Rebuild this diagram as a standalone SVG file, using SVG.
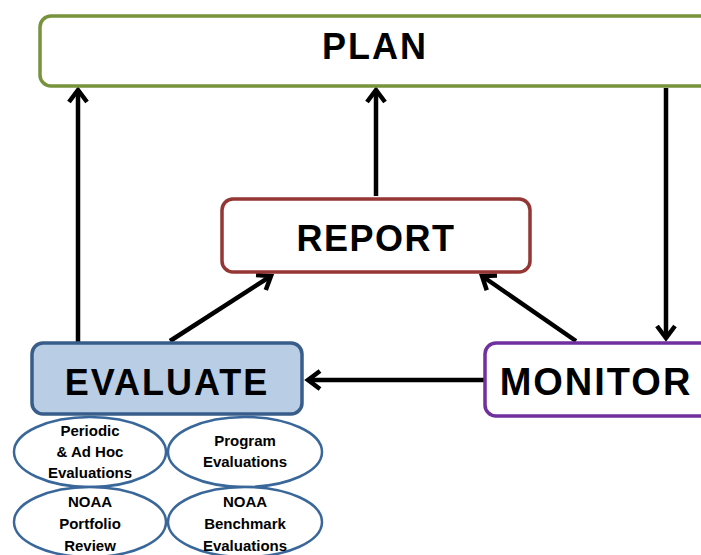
<svg xmlns="http://www.w3.org/2000/svg" width="701" height="555" viewBox="0 0 701 555">
  <style>
    .box { stroke-width: 3.5; }
    .big { font-family: "Liberation Sans", Arial, sans-serif; font-weight: bold; fill: #000; text-anchor: middle; }
    .oval { fill: #fff; stroke: #3A679A; stroke-width: 2.5; }
    .small { font-family: "Liberation Sans", Arial, sans-serif; font-weight: bold; font-size: 15px; fill: #000; text-anchor: middle; }
    .link { stroke: #000; stroke-width: 4.5; fill: none; marker-end: url(#head); }
  </style>
  <defs>
    <marker id="head" viewBox="0 0 12 12" refX="10" refY="6" markerWidth="12" markerHeight="12" markerUnits="userSpaceOnUse" orient="auto" overflow="visible">
      <path d="M-2,-3 L10,6 L-2,15" fill="none" stroke="#000" stroke-width="4.5" stroke-linejoin="miter"/>
    </marker>
  </defs>
  <rect width="701" height="555" fill="#fff"/>

  <g id="connectors">
    <line class="link" x1="78" y1="342" x2="78" y2="90"/>
    <line class="link" x1="376" y1="196" x2="376" y2="90"/>
    <line class="link" x1="666" y1="88" x2="666" y2="338"/>
    <line class="link" x1="170" y1="341" x2="271" y2="276"/>
    <line class="link" x1="576" y1="341" x2="482" y2="276"/>
    <line class="link" x1="484" y1="380" x2="308" y2="380"/>
  </g>

  <g id="plan">
    <rect class="box" x="40" y="16" width="690" height="70" rx="11" fill="#fff" stroke="#77933C"/>
    <text class="big" x="375" y="59" font-size="36" letter-spacing="2">PLAN</text>
  </g>

  <g id="report">
    <rect class="box" x="222" y="199" width="308" height="73" rx="11" fill="#fff" stroke="#943634"/>
    <text class="big" x="376" y="251" font-size="36" letter-spacing="1.5">REPORT</text>
  </g>

  <g id="evaluate">
    <rect class="box" x="32" y="343" width="270" height="71" rx="11" fill="#B9CDE5" stroke="#385D8A"/>
    <text class="big" x="167" y="395" font-size="36" letter-spacing="2">EVALUATE</text>
  </g>

  <g id="monitor">
    <rect class="box" x="485" y="343" width="260" height="73" rx="11" fill="#fff" stroke="#7030A0"/>
    <text class="big" x="596" y="395" font-size="38" letter-spacing="2">MONITOR</text>
  </g>

  <g id="periodic">
    <ellipse class="oval" cx="90" cy="452" rx="76" ry="35"/>
    <text class="small" x="90" y="436">Periodic</text>
    <text class="small" x="90" y="457">&amp; Ad Hoc</text>
    <text class="small" x="90" y="478">Evaluations</text>
  </g>

  <g id="program">
    <ellipse class="oval" cx="245" cy="452" rx="77" ry="35"/>
    <text class="small" x="245" y="446">Program</text>
    <text class="small" x="245" y="467">Evaluations</text>
  </g>

  <g id="portfolio">
    <ellipse class="oval" cx="90" cy="522" rx="76" ry="35"/>
    <text class="small" x="90" y="507">NOAA</text>
    <text class="small" x="90" y="529">Portfolio</text>
    <text class="small" x="90" y="551">Review</text>
  </g>

  <g id="benchmark">
    <ellipse class="oval" cx="245" cy="522" rx="77" ry="35"/>
    <text class="small" x="245" y="507">NOAA</text>
    <text class="small" x="245" y="529">Benchmark</text>
    <text class="small" x="245" y="551">Evaluations</text>
  </g>
</svg>
